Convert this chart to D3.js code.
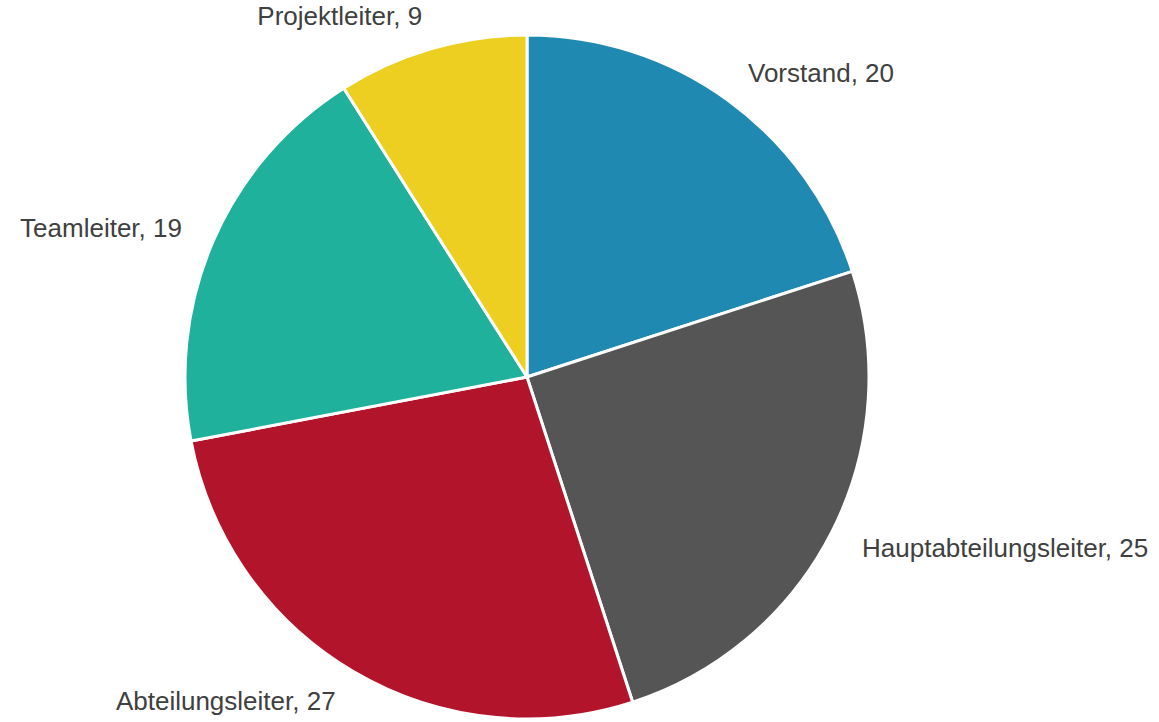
<!DOCTYPE html>
<html>
<head>
<meta charset="utf-8">
<script src="https://cdn.jsdelivr.net/npm/d3@7"></script>
<style>
  body { margin: 0; background: #fff; }
  .label { font-family: "Liberation Sans", Arial, sans-serif; font-size: 26px; fill: #404040; }
</style>
</head>
<body>
<div class="chart"></div>
<script>
var categories = ["Vorstand", "Hauptabteilungsleiter", "Abteilungsleiter", "Teamleiter", "Projektleiter"];
var values = [20, 25, 27, 19, 9];
var colors = ["#2089b1", "#555555", "#b2152b", "#20b19c", "#edcf22"];

var svgWidth = 1159;
var svgHeight = 722;
var cx = 527, cy = 377;
var radius = 342;
var labelRadius = 376;

var data = categories.map(function(c, i) {
    return { name: c, value: values[i], color: colors[i] };
});

var svg = d3.select(".chart")
    .append("svg")
    .attr("width", svgWidth)
    .attr("height", svgHeight);

var chart = svg.append("g")
    .attr("transform", "translate(" + cx + "," + cy + ")");

var pie = d3.pie()
    .sort(null)
    .value(function(d) { return d.value; });

var arc = d3.arc()
    .innerRadius(0)
    .outerRadius(radius);

var arcs = pie(data);

chart.selectAll("path")
    .data(arcs)
    .enter()
    .append("path")
    .attr("d", arc)
    .attr("fill", function(d) { return d.data.color; })
    .attr("stroke", "#fff")
    .attr("stroke-width", 3)
    .attr("stroke-linejoin", "round");

// labels sit just outside the slice, anchored away from the pie
chart.selectAll("text")
    .data(arcs)
    .enter()
    .append("text")
    .attr("class", "label")
    .attr("x", function(d) {
        var a = (d.startAngle + d.endAngle) / 2;
        return labelRadius * Math.sin(a);
    })
    .attr("y", function(d) {
        var a = (d.startAngle + d.endAngle) / 2;
        return -labelRadius * Math.cos(a);
    })
    .attr("dy", "0.35em")
    .attr("text-anchor", function(d) {
        var a = (d.startAngle + d.endAngle) / 2;
        return Math.sin(a) >= 0 ? "start" : "end";
    })
    .text(function(d) { return d.data.name + ", " + d.data.value; });
</script>
</body>
</html>
